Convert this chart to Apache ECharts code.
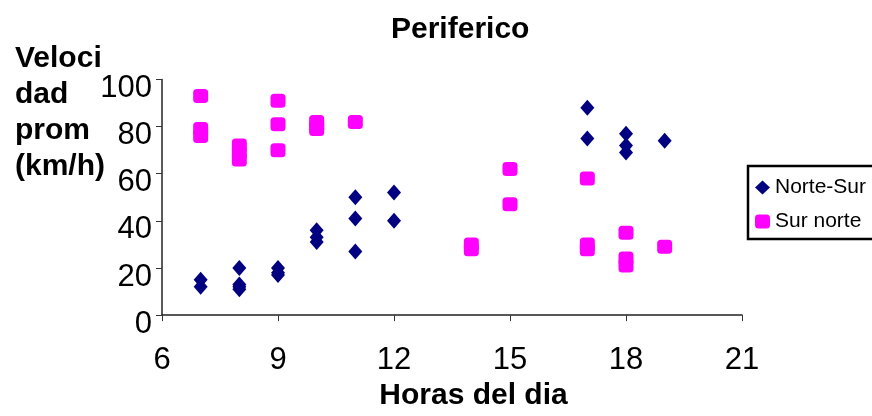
<!DOCTYPE html>
<html>
<head>
<meta charset="utf-8">
<script src="https://cdn.jsdelivr.net/npm/echarts@6/dist/echarts.min.js"></script>
<style>html,body{margin:0;padding:0;background:#fff}#c{width:872px;height:416px}</style>
</head>
<body>
<div id="c"></div>
<script>
// Norte-Sur
const nsHours = [7, 7, 8, 8, 8, 8, 9, 9, 9, 10, 10, 10, 11, 11, 11, 12, 12, 17, 17, 18, 18, 18, 19];
const nsSpeed = [15, 12, 20, 13, 12, 11, 20, 18, 17, 36, 33, 31, 50, 41, 27, 52, 40, 88, 75, 77, 72, 69, 74];
// Sur norte
const snHours = [7, 7, 7, 8, 8, 8, 9, 9, 9, 10, 10, 10, 11, 14, 14, 15, 15, 17, 17, 17, 18, 18, 18, 19];
const snSpeed = [93, 79, 76, 72, 69, 66, 91, 81, 70, 82, 80, 79, 82, 30, 28, 62, 47, 58, 30, 28, 35, 24, 21, 29];

const seriesNames = ['Norte-Sur', 'Sur norte'];
const titleText = 'Periferico';
const xName = 'Horas del dia';
const yName = 'Veloci\ndad\nprom\n(km/h)';

const pair = (xs, ys) => xs.map((x, i) => [x, ys[i]]);
const F = 'Liberation Sans, Arial, sans-serif';

const chart = echarts.init(document.getElementById('c'), null, {renderer: 'canvas'});
chart.setOption({
  animation: false,
  backgroundColor: '#fff',
  title: [
    {text: titleText, left: 391, top: 15, padding: 0,
     textStyle: {fontFamily: F, fontSize: 30, fontWeight: 'bold', color: '#000'}},
    {text: yName, left: 15, top: 41, padding: 0,
     textStyle: {fontFamily: F, fontSize: 30, fontWeight: 'bold', color: '#000', lineHeight: 36}}
  ],
  graphic: [{
    type: 'rect', z: 5, silent: true,
    shape: {x: 748, y: 166, width: 150, height: 73},
    style: {fill: 'none', stroke: '#000', lineWidth: 2.5}
  }],
  legend: {
    orient: 'vertical', left: 747, top: 165,
    padding: [12, 10, 7, 8], itemGap: 13,
    itemWidth: 15, itemHeight: 14,
    borderWidth: 0,
    textStyle: {fontFamily: F, fontSize: 21, color: '#000'},
    data: [{name: seriesNames[0], icon: 'diamond'}, {name: seriesNames[1], icon: 'roundRect'}]
  },
  grid: {left: 162, right: 130, top: 79.5, bottom: 98, containLabel: false},
  xAxis: {
    type: 'value', min: 6, max: 21, interval: 3,
    name: xName, nameLocation: 'middle', nameGap: 64,
    nameTextStyle: {fontFamily: F, fontSize: 30, fontWeight: 'bold', color: '#000', padding: [0, 0, 0, 43]},
    splitLine: {show: false},
    axisLine: {lineStyle: {color: '#222', width: 1.5}},
    axisTick: {inside: false, length: 6, lineStyle: {color: '#333'}},
    axisLabel: {fontFamily: F, fontSize: 31, color: '#000', margin: 30}
  },
  yAxis: {
    type: 'value', min: 0, max: 100, interval: 20,
    splitLine: {show: false},
    axisLine: {show: true, lineStyle: {color: '#222', width: 1.5}},
    axisTick: {show: true, inside: false, length: 6, lineStyle: {color: '#333'}},
    axisLabel: {fontFamily: F, fontSize: 31, color: '#000', margin: 10,
                verticalAlign: 'top', lineHeight: 18}
  },
  series: [
    {name: seriesNames[0], type: 'scatter', symbol: 'diamond', symbolSize: [14, 16],
     itemStyle: {color: '#000080', opacity: 1}, data: pair(nsHours, nsSpeed)},
    {name: seriesNames[1], type: 'scatter', symbol: 'roundRect', symbolSize: [15, 14],
     itemStyle: {color: '#ff00ff', opacity: 1}, data: pair(snHours, snSpeed)}
  ]
});
</script>
</body>
</html>
